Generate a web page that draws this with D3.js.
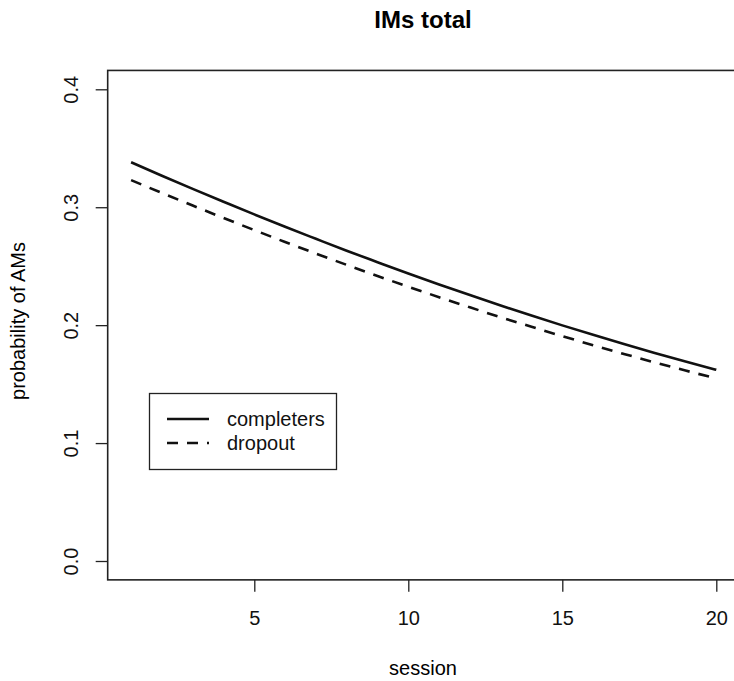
<!DOCTYPE html>
<html>
<head>
<meta charset="utf-8">
<script src="https://cdn.jsdelivr.net/npm/d3@7"></script>
<style>
  body { margin: 0; background: #fff; }
  svg { display: block; font-family: "Liberation Sans", Arial, sans-serif; }
</style>
</head>
<body>
<div id="chart"></div>
<script>
"use strict";

/* <!-- Data --> */
var sessions = [1, 2, 3, 4, 5, 6, 7, 8, 9, 10, 11, 12, 13, 14, 15, 16, 17, 18, 19, 20];
var completers = [0.3381, 0.3267, 0.3156, 0.3047, 0.2939, 0.2834, 0.2732, 0.2631, 0.2534, 0.2438,
  0.2345, 0.2255, 0.2167, 0.2081, 0.1998, 0.1918, 0.1840, 0.1764, 0.1691, 0.1621];
var dropout = [0.3230, 0.3121, 0.3014, 0.2909, 0.2806, 0.2705, 0.2607, 0.2511, 0.2417, 0.2326,
  0.2237, 0.2151, 0.2067, 0.1986, 0.1907, 0.1830, 0.1756, 0.1684, 0.1615, 0.1548];
var seriesNames = ["completers", "dropout"];
var xTicks = [5, 10, 15, 20];
var yTicks = [0, 0.1, 0.2, 0.3, 0.4];

/* <!-- Layout --> */
var W = 734, H = 681;
var x = d3.scaleLinear().domain([1, 20]).range([131.1, 716.3]);
var y = d3.scaleLinear().domain([0, 0.4]).range([561, 89.3]);
var box = { x0: x(0.24), x1: x(20.76), y0: y(-0.016), y1: y(0.416) };

var svg = d3.select("#chart").append("svg")
  .attr("width", W).attr("height", H);

/* <!-- Title and labels --> */
svg.append("text")
  .attr("x", 423).attr("y", 28)
  .attr("text-anchor", "middle")
  .style("font-size", "24px").style("font-weight", "bold")
  .text("IMs total");

svg.append("text")
  .attr("x", 423).attr("y", 675)
  .attr("text-anchor", "middle")
  .style("font-size", "20px")
  .text("session");

svg.append("text")
  .attr("transform", "translate(25,321) rotate(-90)")
  .attr("text-anchor", "middle")
  .style("font-size", "20px")
  .text("probability of AMs");

/* <!-- Axes --> */
var gx = svg.append("g")
  .attr("transform", `translate(0,${box.y0})`)
  .call(d3.axisBottom(x).tickValues(xTicks).tickSize(12).tickPadding(19).tickFormat(d3.format("d")));
gx.select(".domain").remove();
gx.selectAll("text").style("font-size", "20px").attr("fill", "#111");
gx.selectAll("line").attr("stroke", "#222").attr("stroke-width", 1.3);

var gy = svg.append("g")
  .attr("transform", `translate(${box.x0},0)`)
  .call(d3.axisLeft(y).tickValues(yTicks).tickSize(12).tickFormat(d3.format(".1f")));
gy.select(".domain").remove();
gy.selectAll("line").attr("stroke", "#222").attr("stroke-width", 1.3);
gy.selectAll("text")
  .attr("x", null).attr("dy", null)
  .attr("text-anchor", "middle")
  .attr("transform", "translate(-29.5,0) rotate(-90)")
  .style("font-size", "20px").attr("fill", "#111");

/* <!-- Plot box --> */
svg.append("rect")
  .attr("x", box.x0).attr("y", box.y1)
  .attr("width", box.x1 - box.x0).attr("height", box.y0 - box.y1)
  .attr("fill", "none").attr("stroke", "#222").attr("stroke-width", 1.6);

/* <!-- Lines --> */
var line = d3.line().x(d => x(d[0])).y(d => y(d[1])).curve(d3.curveMonotoneX);
var dash = { completers: null, dropout: "11,9" };
[completers, dropout].forEach((vals, i) => {
  svg.append("path")
    .datum(d3.zip(sessions, vals))
    .attr("d", line)
    .attr("fill", "none")
    .attr("stroke", "#111")
    .attr("stroke-width", 2.6)
    .attr("stroke-dasharray", dash[seriesNames[i]]);
});

/* <!-- Legend --> */
var lg = svg.append("g");
lg.append("rect")
  .attr("x", 149.5).attr("y", 393.5).attr("width", 187).attr("height", 76)
  .attr("fill", "#fff").attr("stroke", "#222").attr("stroke-width", 1.3);
seriesNames.forEach((name, i) => {
  var ly = 419 + i * 24;
  lg.append("line")
    .attr("x1", 167).attr("x2", 209).attr("y1", ly).attr("y2", ly)
    .attr("stroke", "#111").attr("stroke-width", 2.6)
    .attr("stroke-dasharray", dash[name]);
  lg.append("text")
    .attr("x", 227).attr("y", ly + 7)
    .style("font-size", "20px").attr("fill", "#111")
    .text(name);
});
</script>
</body>
</html>
